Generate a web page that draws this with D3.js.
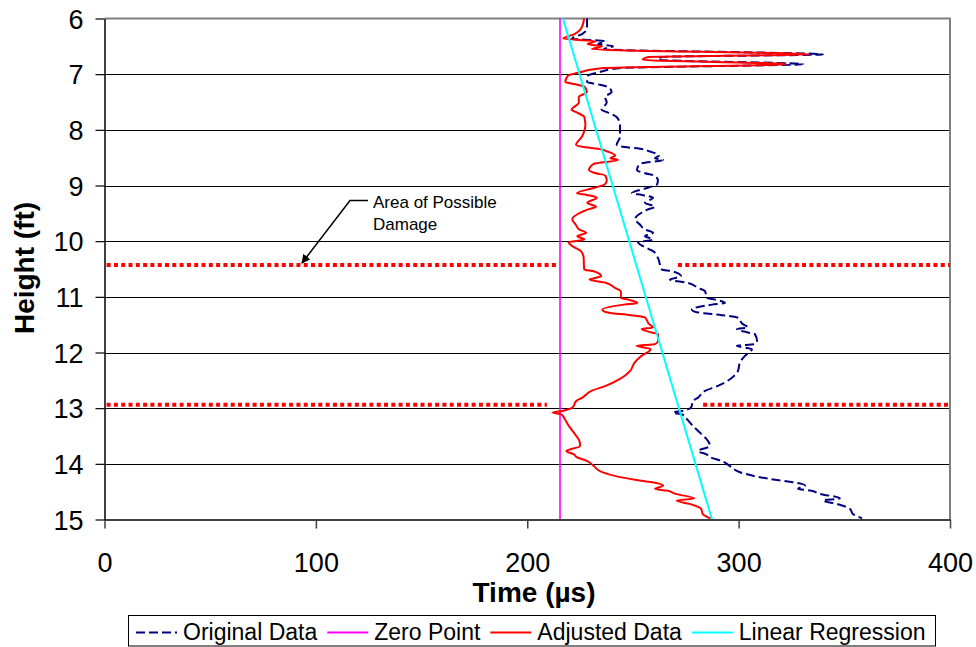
<!DOCTYPE html>
<html>
<head>
<meta charset="utf-8">
<script src="https://cdn.jsdelivr.net/npm/d3@7"></script>
<style>
  html, body { margin: 0; padding: 0; background: #fff; }
  svg { display: block; font-family: "Liberation Sans", Arial, sans-serif; }
</style>
</head>
<body>
<svg id="chart" width="976" height="647"></svg>
<script>
// ---------------- DATA ----------------
const heights = [6.00,6.18,6.28,6.36,6.41,6.46,6.50,6.55,6.645,6.69,
  6.74,6.82,6.89,6.97,7.03,7.14,7.19,7.23,7.32,7.41,
  7.51,7.64,7.69,7.77,7.91,8.12,8.27,8.31,8.34,8.39,
  8.46,8.51,8.54,8.61,8.72,8.78,8.82,8.91,8.98,9.04,
  9.14,9.17,9.22,9.31,9.38,9.43,9.61,9.70,9.79,9.85,
  9.91,9.97,10.02,10.09,10.18,10.30,10.42,10.51,10.54,10.63,
  10.69,10.75,10.84,10.90,11.02,11.05,11.11,11.14,11.23,11.28,
  11.33,11.37,11.49,11.55,11.58,11.64,11.67,11.79,11.85,11.88,
  11.94,12.06,12.18,12.33,12.48,12.60,12.69,12.81,12.87,12.99,
  13.05,13.08,13.11,13.20,13.32,13.44,13.59,13.68,13.77,13.83,
  13.88,13.95,14.04,14.15,14.23,14.29,14.33,14.39,14.45,14.48,
  14.54,14.62,14.66,14.72,14.81,14.90,14.98];

const originalData = [228.3,228.3,225.9,221.2,236.8,233.5,240.6,236.3,339.9,264.2,
  261.8,330.4,244.4,233.5,228.7,228.3,234.4,238.2,239.9,236.8,
  237.6,235.2,238.2,242.3,243.9,243.9,242.3,246.2,253.3,258.1,
  262.3,260.4,264.2,253.3,251.9,255.7,260.4,261.8,261.4,257.1,
  249.5,254.3,259.5,255.7,260.4,257.1,251.0,253.3,255.7,259.5,
  255.7,259.5,252.4,254.8,259.5,261.8,262.8,263.7,268.5,272.7,
  267.5,276.0,280.8,284.1,285.0,288.8,293.5,287.4,277.9,280.8,
  292.1,299.2,302.0,304.4,299.2,304.4,307.7,308.7,307.7,299.2,
  306.3,303.0,300.6,299.7,295.9,290.2,284.1,280.8,278.4,277.5,
  273.2,268.9,273.2,275.6,278.4,281.7,285.5,286.5,280.8,284.8,
  286.5,292.1,295.9,300.6,308.7,318.1,325.7,331.4,328.1,333.8,
  338.5,347.9,339.9,346.5,352.7,354.1,358.4];

const adjustedData = [226.9,225.5,222.3,217.0,232.2,228.5,235.3,230.6,333.5,257.4,
  254.6,322.6,236.0,224.5,219.2,218.0,223.7,227.2,228.2,224.4,
  224.4,221.0,223.6,227.0,227.5,225.9,223.1,226.7,233.6,238.0,
  241.6,239.3,242.9,231.5,229.2,232.5,236.9,237.6,236.7,231.9,
  223.5,228.1,232.9,228.4,232.5,228.8,221.3,222.9,224.6,227.9,
  223.7,227.0,219.5,221.4,225.4,226.7,226.8,227.0,231.5,235.0,
  229.4,237.4,241.5,244.3,244.3,247.8,252.1,245.7,235.5,238.0,
  249.0,255.7,257.6,259.5,254.1,258.8,261.9,261.9,260.5,251.7,
  258.4,254.1,250.8,248.7,243.7,237.1,230.3,226.1,223.2,221.4,
  216.6,212.0,216.1,217.8,219.7,222.0,224.7,225.0,218.5,222.1,
  223.4,228.4,231.5,235.4,242.8,251.8,259.1,264.3,260.5,266.0,
  270.2,279.0,270.7,276.8,282.3,283.0,286.7];

const zeroPointTime = [215.5, 215.5];
const zeroPointHeight = [6, 15];
const regressionTime = [216.9, 287.4];
const regressionHeight = [6, 15];

const damageHeights = [10.43, 12.94];
const damageSegments = [
  [[1, 214.5], [271.3, 400]],
  [[1, 209.3], [283.2, 400]]
];

const xTicks = [0, 100, 200, 300, 400];
const yTicks = [6, 7, 8, 9, 10, 11, 12, 13, 14, 15];

const seriesNames = ["Original Data", "Zero Point", "Adjusted Data", "Linear Regression"];
const xTitle = "Time (µs)";
const yTitle = "Height (ft)";
const annotationLines = ["Area of Possible", "Damage"];

// ---------------- CHART ----------------
const svg = d3.select("#chart");
const pLeft = 104.5, pRight = 950, pTop = 18.5, pBottom = 519.5;

const x = d3.scaleLinear().domain([0, 400]).range([pLeft, pRight]);
const y = d3.scaleLinear().domain([6, 15]).range([pTop, pBottom]);

svg.append("defs").append("clipPath").attr("id", "plotClip")
  .append("rect").attr("x", pLeft).attr("y", pTop - 1).attr("width", pRight - pLeft).attr("height", pBottom - pTop + 2);

// gridlines
svg.append("g").selectAll("line").data(yTicks.filter(d => d > 6 && d < 15)).join("line")
  .attr("x1", pLeft).attr("x2", pRight)
  .attr("y1", d => Math.round(y(d)) + 0.5).attr("y2", d => Math.round(y(d)) + 0.5)
  .attr("stroke", "#000").attr("stroke-width", 1);

// plot border (top & right)
svg.append("path")
  .attr("d", `M${pLeft},${pTop}H${pRight}V${pBottom}`)
  .attr("fill", "none").attr("stroke", "#808080").attr("stroke-width", 2);

const plot = svg.append("g").attr("clip-path", "url(#plotClip)");

// damage lines
damageHeights.forEach((h, i) => {
  damageSegments[i].forEach(seg => {
    plot.append("line")
      .attr("x1", x(seg[0])).attr("x2", x(seg[1]))
      .attr("y1", y(h)).attr("y2", y(h))
      .attr("stroke", "#ff0000").attr("stroke-width", 4)
      .attr("stroke-dasharray", "4,3.3");
  });
});

const lineGen = d3.line().curve(d3.curveMonotoneY);

const origPts = heights.map((h, i) => [x(originalData[i]), y(h)]);
const adjPts = heights.map((h, i) => [x(adjustedData[i]), y(h)]);

// zero point
plot.append("path")
  .attr("d", d3.line()(zeroPointHeight.map((h, i) => [x(zeroPointTime[i]), y(h)])))
  .attr("stroke", "#ff00ff").attr("stroke-width", 1.6).attr("fill", "none");

// original data (dashed navy)
plot.append("path").attr("d", lineGen(origPts))
  .attr("fill", "none").attr("stroke", "#000080").attr("stroke-width", 2)
  .attr("stroke-dasharray", "9,4");

// adjusted data
plot.append("path").attr("d", lineGen(adjPts))
  .attr("fill", "none").attr("stroke", "#ff0000").attr("stroke-width", 2);

// regression
plot.append("path")
  .attr("d", d3.line()(regressionHeight.map((h, i) => [x(regressionTime[i]), y(h)])))
  .attr("stroke", "#00ffff").attr("stroke-width", 2).attr("fill", "none");

// axes
const xAxis = svg.append("g").attr("transform", `translate(0,${pBottom})`)
  .call(d3.axisBottom(x).tickValues(xTicks).tickSize(9).tickSizeOuter(0).tickFormat(d3.format("d")));
xAxis.select(".domain").attr("stroke", "#404040").attr("stroke-width", 2);
xAxis.selectAll(".tick line").attr("stroke", "#404040").attr("stroke-width", 1.5);
xAxis.selectAll(".tick text").attr("y", 52.5).attr("dy", 0)
  .attr("font-size", 27).attr("fill", "#000").attr("font-family", "Liberation Sans, Arial, sans-serif");

const yAxis = svg.append("g").attr("transform", `translate(${pLeft},0)`)
  .call(d3.axisLeft(y).tickValues(yTicks).tickSize(9).tickSizeOuter(0).tickFormat(d3.format("d")));
yAxis.select(".domain").attr("stroke", "#000").attr("stroke-width", 1.5);
yAxis.selectAll(".tick line").attr("stroke", "#000").attr("stroke-width", 1.2);
yAxis.selectAll(".tick text").attr("x", -21).attr("dy", "0.36em")
  .attr("font-size", 27).attr("fill", "#000").attr("font-family", "Liberation Sans, Arial, sans-serif");

// axis titles
svg.append("text").attr("x", 534).attr("y", 602)
  .attr("text-anchor", "middle").attr("font-size", 28).attr("font-weight", "bold")
  .text(xTitle);
svg.append("text").attr("transform", "translate(34,268) rotate(-90)")
  .attr("text-anchor", "middle").attr("font-size", 28).attr("font-weight", "bold")
  .text(yTitle);

// annotation
svg.append("defs").append("marker").attr("id", "arrow")
  .attr("viewBox", "0 0 10 10").attr("refX", 9).attr("refY", 5)
  .attr("markerWidth", 9).attr("markerHeight", 9).attr("markerUnits", "userSpaceOnUse")
  .attr("orient", "auto")
  .append("path").attr("d", "M0,0L10,5L0,10z").attr("fill", "#000");
svg.append("path").attr("d", "M368,200.5H350L302,263")
  .attr("fill", "none").attr("stroke", "#000").attr("stroke-width", 1.5)
  .attr("marker-end", "url(#arrow)");
annotationLines.forEach((t, i) => {
  svg.append("text").attr("x", 373).attr("y", 208 + i * 22)
    .attr("font-size", 17).attr("fill", "#000").text(t);
});

// legend
const legend = svg.append("g");
const legendColors = ["#000080", "#ff00ff", "#ff0000", "#00ffff"];
const legendDash = ["9,4", null, null, null];
let cx = 136;
const ly = 632.5;
seriesNames.forEach((name, i) => {
  legend.append("line").attr("x1", cx).attr("x2", cx + 41).attr("y1", ly).attr("y2", ly)
    .attr("stroke", legendColors[i]).attr("stroke-width", 2)
    .attr("stroke-dasharray", legendDash[i]);
  const t = legend.append("text").attr("x", cx + 47).attr("y", 640)
    .attr("font-size", 23).attr("fill", "#000").text(name);
  cx = cx + 47 + t.node().getComputedTextLength() + 10;
});
legend.insert("rect", ":first-child").attr("x", 128.5).attr("y", 615.5)
  .attr("width", cx - 128.5).attr("height", 30.5)
  .attr("fill", "#fff").attr("stroke", "#000").attr("stroke-width", 1);
</script>
</body>
</html>
